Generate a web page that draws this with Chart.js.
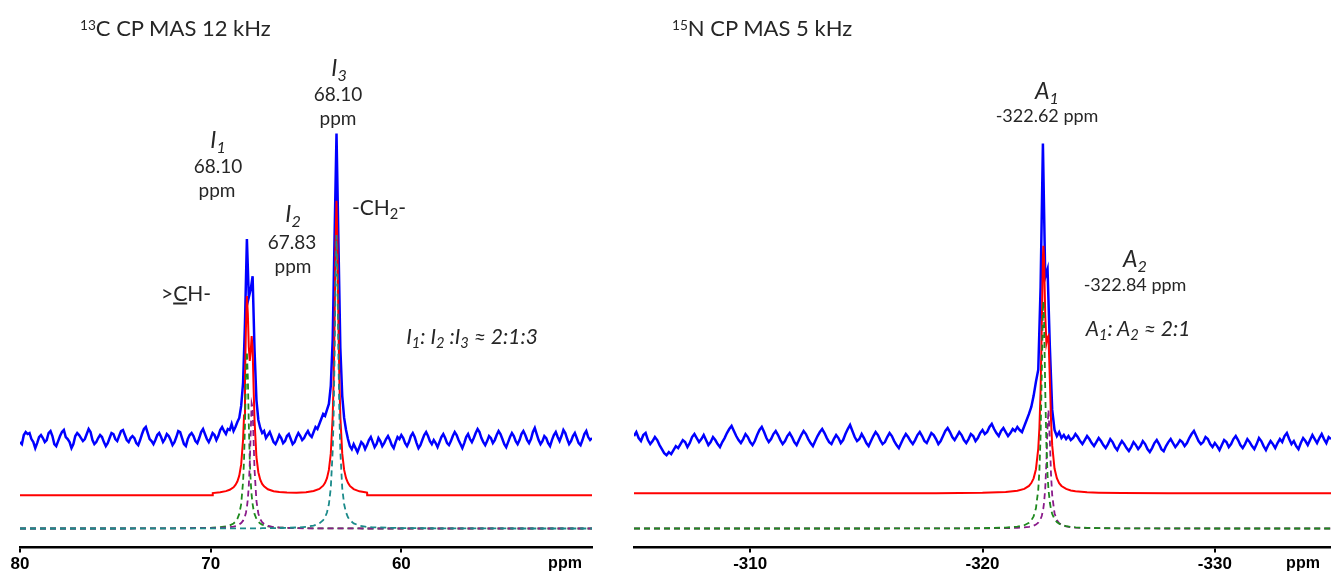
<!DOCTYPE html>
<html>
<head>
<meta charset="utf-8">
<script src="https://cdn.jsdelivr.net/npm/chart.js@4.4.1/dist/chart.umd.min.js"></script>
<style>
  body { margin: 0; background: #fff; width: 1331px; height: 577px; overflow: hidden; position: relative; }
  canvas { position: absolute; top: 0; }
  .lbl { position: absolute; white-space: nowrap; color: #262626; font-family: Lato, "Open Sans", sans-serif; line-height: 1; }
  .c { transform: translate(-50%, -50%); }
  .l { transform: translateY(-50%); }
  .it { font-style: italic; }
  .sb { position: relative; top: 0.3em; font-size: 0.7em; }
  .sp { position: relative; top: -0.45em; font-size: 0.62em; }
  .unit { font-family: "Liberation Sans", Arial, sans-serif; font-weight: bold; font-size: 16px; color: #000; }
</style>
</head>
<body>
<canvas id="cChart" width="620" height="577" style="left:0"></canvas>
<canvas id="nChart" width="711" height="577" style="left:620px"></canvas>

<div class="lbl l" style="left:80px;top:28px;font-size:22px"><span class="sp">13</span>C CP MAS 12 kHz</div>
<div class="lbl l" style="left:672px;top:28px;font-size:22px"><span class="sp">15</span>N CP MAS 5 kHz</div>

<div class="lbl c it" style="left:339px;top:67px;font-size:23px">I<span class="sb">3</span></div>
<div class="lbl c" style="left:338px;top:93px;font-size:19px">68.10</div>
<div class="lbl c" style="left:338px;top:117px;font-size:19px">ppm</div>

<div class="lbl c it" style="left:218px;top:139px;font-size:23px">I<span class="sb">1</span></div>
<div class="lbl c" style="left:218px;top:165px;font-size:19px">68.10</div>
<div class="lbl c" style="left:217px;top:189px;font-size:19px">ppm</div>

<div class="lbl c it" style="left:293px;top:213px;font-size:23px">I<span class="sb">2</span></div>
<div class="lbl c" style="left:292px;top:241px;font-size:19px">67.83</div>
<div class="lbl c" style="left:293px;top:265px;font-size:19px">ppm</div>

<div class="lbl c" style="left:379px;top:206px;font-size:21px">-CH<span class="sb">2</span>-</div>
<div class="lbl c" style="left:186px;top:292px;font-size:21px">&gt;<u>C</u>H-</div>
<div class="lbl c it" style="left:472px;top:335px;font-size:21px">I<span class="sb">1</span>: I<span class="sb">2</span> :I<span class="sb">3</span> ≈ 2:1:3</div>

<div class="lbl c it" style="left:1047px;top:90px;font-size:23px">A<span class="sb">1</span></div>
<div class="lbl c" style="left:1047px;top:115px;font-size:18px">-322.62 ppm</div>
<div class="lbl c it" style="left:1135px;top:258px;font-size:23px">A<span class="sb">2</span></div>
<div class="lbl c" style="left:1135px;top:284px;font-size:18px">-322.84 ppm</div>
<div class="lbl c it" style="left:1138px;top:327px;font-size:21px">A<span class="sb">1</span>: A<span class="sb">2</span> ≈ 2:1</div>

<div class="lbl c unit" style="left:565px;top:563px">ppm</div>
<div class="lbl c unit" style="left:1303px;top:563px">ppm</div>

<script>
// 13C spectrum: measured trace sampled every 0.1 ppm from 80 ppm downwards
var cStart = 80, cStep = 0.1
var cBlue = [
  86, 84, 93, 96, 94, 95, 89, 86, 80, 85,
  91, 93, 90, 86, 88, 95, 97, 92, 84, 82,
  87, 92, 96, 98, 91, 89, 86, 80, 84, 92,
  95, 93, 90, 87, 89, 94, 99, 96, 88, 84,
  86, 90, 93, 91, 86, 82, 85, 90, 95, 94,
  89, 87, 92, 97, 98, 93, 88, 86, 90, 92,
  90, 85, 83, 88, 94, 99, 101, 95, 89, 87,
  84, 88, 93, 95, 91, 86, 89, 94, 92, 88,
  83, 86, 91, 97, 96, 90, 84, 82, 89, 93,
  95, 92, 87, 85, 90, 96, 99, 94, 89, 86,
  90, 95, 93, 88, 92, 98, 101, 97, 94, 99,
  98, 104, 97, 101, 106, 110, 122, 145, 205, 288,
  230, 238, 251, 178, 128, 108, 100, 95, 97, 90,
  93, 96, 91, 86, 84, 88, 93, 90, 85, 87,
  92, 94, 89, 84, 86, 91, 95, 92, 88, 90,
  94, 97, 93, 91, 96, 101, 99, 104, 109, 114,
  112, 118, 124, 142, 188, 292, 393, 286, 180, 132,
  110, 98, 89, 82, 79, 84, 80, 76, 81, 86,
  84, 79, 83, 88, 91, 86, 81, 84, 90, 87,
  82, 85, 89, 92, 88, 83, 80, 86, 91, 89,
  93, 90, 85, 82, 86, 92, 95, 91, 85, 80,
  83, 88, 93, 96, 92, 87, 84, 88, 85, 81,
  86, 91, 94, 90, 85, 83, 87, 92, 96, 93,
  88, 84, 80, 85, 91, 94, 89, 86, 90, 95,
  99, 96, 90, 86, 83, 87, 92, 90, 85, 88,
  93, 97, 94, 89, 84, 81, 86, 91, 95, 92,
  87, 84, 88, 94, 97, 93, 88, 85, 89, 96,
  100, 94, 88, 84, 87, 92, 90, 85, 82, 88,
  93, 96, 91, 87, 92, 98, 95, 89, 84, 87,
  92, 95, 90, 85, 83, 88, 94, 97, 91, 88,
  90
]
// 13C deconvolution: fit envelope and the three components I1, I2, I3
var cFitPpm = [80, 75, 72, 70, 69.9, 69.89, 69.5, 69.2, 69.0, 68.8, 68.7, 68.6, 68.5, 68.4, 68.3,
  68.25, 68.2, 68.15, 68.1, 68.05, 68.0, 67.95, 67.9, 67.85, 67.8, 67.75, 67.7, 67.6, 67.5, 67.4,
  67.3, 67.2, 67.0, 66.7, 66.4, 66.0, 65.5, 65.0, 64.6, 64.3, 64.1, 64.0, 63.9, 63.8, 63.7,
  63.6, 63.55, 63.5, 63.45, 63.4, 63.35, 63.3, 63.25, 63.2, 63.1, 63.0, 62.9, 62.8, 62.7,
  62.5, 62.2, 61.9, 61.8, 61.79, 61.5, 60, 57, 53, 50]
var cFitSum = [33, 33, 33, 33, 33, 35.3, 36.1, 37.2, 38.5, 41.0, 43.3, 46.7, 52.6, 63.8, 88.5,
  112.4, 150.1, 199.8, 231.2, 213.4, 180.5, 166.7, 176.2, 191.5, 178.8, 141.2, 107.6, 71.2, 56.0, 48.5,
  44.4, 41.9, 39.0, 37.1, 36.3, 35.8, 35.7, 36.1, 37.3, 39.4, 42.6, 45.5, 50.1, 58.3, 74.5,
  111.6, 148.1, 206.5, 283.0, 326.2, 283.0, 206.5, 148.1, 111.6, 74.5, 58.3, 50.1, 45.4, 42.4,
  39.2, 37.0, 36.0, 35.7, 33, 33, 33, 33, 33, 33]
var cFitI1 = [0, 0, 0.2, 0.7, 0.8, 0.8, 1.3, 2.1, 3.1, 5.0, 6.8, 9.6, 14.5, 24.3, 46.6,
  68.6, 103.8, 150, 176, 150, 103.8, 68.6, 46.6, 32.9, 24.3, 18.5, 14.5, 9.6, 6.8, 5.0,
  3.9, 3.1, 2.1, 1.3, 0.9, 0.6, 0.4, 0.3, 0.2, 0.2, 0.2, 0.2, 0.2, 0.2, 0.2,
  0.1, 0.1, 0.1, 0.1, 0.1, 0.1, 0.1, 0.1, 0.1, 0.1, 0.1, 0.1, 0.1, 0.1,
  0.1, 0.1, 0, 0, 0, 0, 0, 0, 0, 0]
var cFitI2 = [0, 0, 0.1, 0.4, 0.4, 0.4, 0.7, 1.0, 1.3, 1.9, 2.4, 3.0, 4.0, 5.4, 7.8,
  9.7, 12.2, 15.7, 21.1, 29.3, 42.6, 64, 95.5, 124.5, 120.4, 88.6, 58.9, 27.4, 15.0, 9.3,
  6.2, 4.5, 2.6, 1.4, 0.9, 0.6, 0.3, 0.2, 0.2, 0.1, 0.1, 0.1, 0.1, 0.1, 0.1,
  0.1, 0.1, 0.1, 0.1, 0.1, 0.1, 0.1, 0.1, 0.1, 0.1, 0.1, 0.1, 0.1, 0.1,
  0.1, 0.1, 0, 0, 0, 0, 0, 0, 0, 0]
var cFitI3 = [0, 0, 0.1, 0.1, 0.1, 0.1, 0.1, 0.1, 0.1, 0.1, 0.1, 0.1, 0.1, 0.1, 0.1,
  0.1, 0.1, 0.1, 0.1, 0.1, 0.1, 0.1, 0.1, 0.1, 0.1, 0.1, 0.2, 0.2, 0.2, 0.2,
  0.3, 0.3, 0.3, 0.4, 0.5, 0.6, 1.0, 1.6, 2.9, 5.1, 8.3, 11.2, 15.9, 24.1, 40.3,
  77.4, 113.9, 172.3, 248.8, 292, 248.8, 172.3, 113.9, 77.4, 40.3, 24.1, 15.9, 11.2, 8.3,
  5.1, 2.9, 1.9, 1.6, 1.6, 1.2, 0.4, 0.1, 0, 0]
var cTicks = [80, 70, 60]

// 15N spectrum: measured trace sampled every 0.1 ppm from -305 ppm downwards
var nStart = -305, nStep = 0.1
var nBlue = [
  92, 96, 90, 87, 93, 95, 88, 84, 87, 91,
  88, 83, 79, 75, 73, 76, 74, 78, 82, 80,
  84, 88, 86, 81, 85, 91, 94, 90, 86, 89,
  93, 88, 83, 86, 91, 88, 84, 81, 86, 90,
  95, 99, 102, 97, 92, 88, 85, 89, 94, 91,
  86, 83, 87, 93, 98, 101, 96, 90, 86, 89,
  94, 97, 93, 88, 84, 87, 92, 95, 91, 86,
  83, 88, 93, 97, 94, 89, 85, 82, 87, 92,
  96, 99, 95, 90, 86, 84, 89, 93, 90, 85,
  88, 94, 99, 103, 97, 91, 87, 89, 94, 90,
  85, 82, 87, 92, 96, 93, 88, 84, 86, 91,
  95, 92, 87, 83, 80, 85, 90, 94, 91, 87,
  84, 88, 93, 96, 92, 87, 85, 90, 95, 93,
  89, 84, 87, 92, 97, 100, 96, 91, 88, 92,
  96, 93, 88, 85, 89, 94, 92, 87, 90, 95,
  98, 94, 96, 101, 104, 99, 95, 92, 97, 100,
  96, 92, 95, 99, 97, 101, 98, 96, 102, 108,
  114, 121, 132, 146, 158, 240, 383, 250, 258, 180,
  118, 98, 92, 96, 90, 93, 89, 92, 88, 90,
  94, 91, 87, 84, 88, 92, 89, 85, 82, 86,
  90, 87, 83, 80, 84, 89, 86, 81, 78, 83,
  87, 84, 80, 77, 81, 86, 83, 79, 82, 87,
  84, 79, 76, 80, 85, 88, 84, 79, 77, 82,
  86, 89, 85, 81, 84, 88, 86, 82, 85, 90,
  94, 97, 92, 87, 84, 86, 91, 89, 84, 81,
  85, 82, 78, 83, 88, 86, 81, 84, 89, 92,
  88, 83, 80, 84, 89, 86, 82, 79, 84, 90,
  87, 82, 78, 83, 87, 84, 80, 85, 89, 86,
  92, 95, 89, 84, 87, 82, 79, 85, 90, 87,
  83, 88, 93, 89, 85, 90, 94, 89, 85, 91,
  89
]
// 15N deconvolution: fit envelope and components A1, A2
var nFitPpm = [-305, -310, -315, -318, -320, -321, -321.5, -321.8, -322.0, -322.1, -322.2, -322.3,
  -322.4, -322.45, -322.5, -322.55, -322.6, -322.62, -322.65, -322.7, -322.75, -322.8, -322.84,
  -322.9, -322.95, -323.0, -323.1, -323.2, -323.3, -323.4, -323.6, -323.8, -324.0, -324.5, -325,
  -326, -328, -330, -335]
var nFitSum = [35, 35, 35, 35.2, 35.5, 36.3, 37.5, 39.4, 42.4, 45.2, 49.9, 59.0,
  79.5, 100.4, 137.0, 199.2, 269.8, 281.2, 267.9, 212.7, 184.2, 190.0, 191.7,
  147.4, 107.4, 82.7, 59.6, 50.0, 45.1, 42.3, 39.4, 37.9, 37.1, 36.0, 35.7,
  35.3, 35.1, 35, 35]
var nFitA1 = [0, 0, 0, 0.1, 0.3, 0.9, 1.8, 3.3, 5.7, 8.1, 12.1, 20.1,
  38.7, 58.1, 92.6, 151.7, 217.3, 226, 207.3, 137.8, 84.0, 53.3, 38.7,
  25.6, 19.0, 14.6, 9.4, 6.5, 4.8, 3.7, 2.4, 1.6, 1.2, 0.6, 0.4,
  0.2, 0.1, 0, 0]
var nFitA2 = [0, 0, 0, 0.1, 0.2, 0.4, 0.7, 1.1, 1.7, 2.1, 2.8, 3.9,
  5.8, 7.3, 9.4, 12.5, 17.5, 20.2, 25.6, 39.9, 65.2, 101.7, 118,
  86.8, 53.4, 33.1, 15.2, 8.5, 5.3, 3.6, 2.0, 1.3, 0.9, 0.4, 0.3,
  0.1, 0, 0, 0]
var nTicks = [-310, -320, -330]

function deTrazo(start, step, vals) {
  return vals.map(function (v, i) { return { x: +(start - i * step).toFixed(2), y: v } })
}
function dePares(xs, ys) {
  return xs.map(function (x, i) { return { x: x, y: ys[i] } })
}
function linea(data, color, ancho, guiones) {
  return {
    data: data,
    borderColor: color,
    borderWidth: ancho,
    borderDash: guiones || [],
    pointRadius: 0,
    tension: 0,
    fill: false
  }
}

function panel(id, xmin, xmax, ticks, datasets, pad) {
  return new Chart(document.getElementById(id), {
    type: 'line',
    data: { datasets: datasets },
    options: {
      responsive: false,
      animation: false,
      devicePixelRatio: 1,
      layout: { padding: pad },
      plugins: { legend: { display: false }, tooltip: { enabled: false } },
      scales: {
        x: {
          type: 'linear',
          min: xmin,
          max: xmax,
          reverse: true,
          afterBuildTicks: function (s) { s.ticks = ticks.map(function (v) { return { value: v } }) },
          grid: { drawOnChartArea: false, drawTicks: true, tickLength: 5, color: '#000', lineWidth: 2 },
          border: { display: true, color: '#000', width: 2.5 },
          ticks: {
            color: '#000',
            padding: 2,
            maxRotation: 0,
            autoSkip: false,
            font: { family: 'Liberation Sans', size: 17, weight: 'bold' }
          }
        },
        y: { display: false, min: -19, max: 500 }
      }
    }
  })
}

var dash = [6, 4]
panel('cChart', 50, 80, cTicks, [
  linea(dePares(cFitPpm, cFitI3), '#1b8a8a', 1.8, dash),
  linea(dePares(cFitPpm, cFitI2), '#8a1a8a', 1.8, dash),
  linea(dePares(cFitPpm, cFitI1), '#1e8a1e', 1.8, dash),
  linea(dePares(cFitPpm, cFitSum), '#ff0000', 2),
  linea(deTrazo(cStart, cStep, cBlue), '#0000ff', 2.5)
], { left: 20, right: 28, top: 26, bottom: 0 })

panel('nChart', -335, -305, nTicks, [
  linea(dePares(nFitPpm, nFitA1), '#1e8a1e', 1.8, dash),
  linea(dePares(nFitPpm, nFitA2), '#8a1a8a', 1.8, dash),
  linea(dePares(nFitPpm, nFitSum), '#ff0000', 2),
  linea(deTrazo(nStart, nStep, nBlue), '#0000ff', 2.5)
], { left: 14, right: 0, top: 26, bottom: 0 })
</script>
</body>
</html>
